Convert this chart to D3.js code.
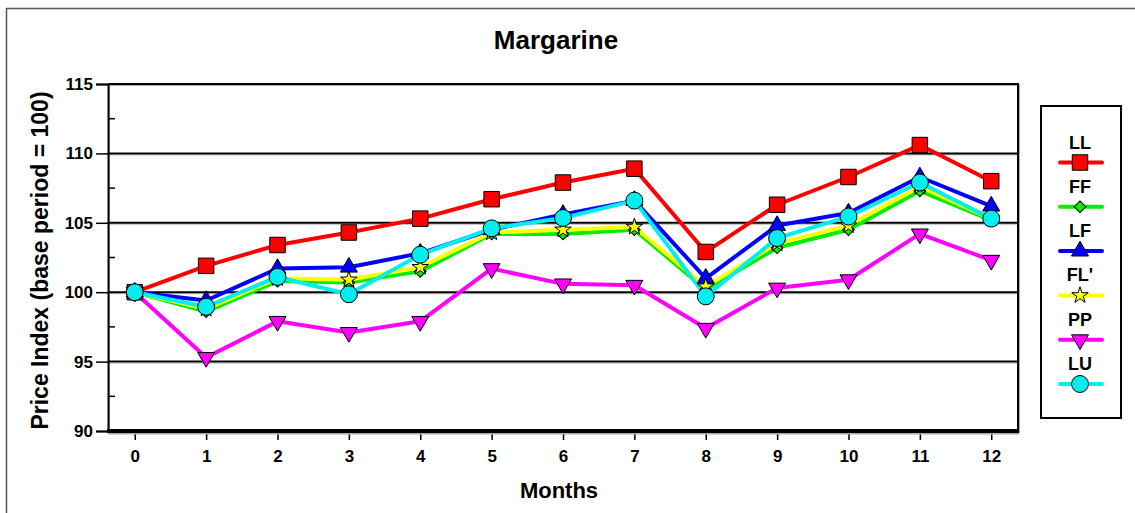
<!DOCTYPE html>
<html>
<head>
<meta charset="utf-8">
<script src="https://cdn.jsdelivr.net/npm/d3@7"></script>
<style>
  html, body { margin: 0; padding: 0; background: #fff; }
  svg { display: block; }
  text { font-family: "Liberation Sans", Arial, Helvetica, sans-serif; font-weight: bold; fill: #000; }
</style>
</head>
<body>
<svg id="chart" width="1135" height="513"></svg>
<script>
// ---- Data ----
const months = [0, 1, 2, 3, 4, 5, 6, 7, 8, 9, 10, 11, 12];
const seriesNames = ["LL", "FF", "LF", "FL'", "PP", "LU"];
const LL  = [100, 101.9, 103.4, 104.3, 105.3, 106.7, 107.9, 108.9, 102.9, 106.3, 108.3, 110.6, 108.0];
const FF  = [100, 98.6, 100.8, 100.7, 101.5, 104.2, 104.2, 104.5, 100.2, 103.2, 104.5, 107.3, 105.2];
const LF  = [100, 99.4, 101.7, 101.8, 102.8, 104.5, 105.6, 106.6, 101.0, 104.8, 105.7, 108.3, 106.2];
const FLp = [100, 98.8, 101.0, 100.9, 101.8, 104.3, 104.5, 104.7, 100.4, 103.5, 104.8, 107.6, 105.3];
const PP  = [100, 95.3, 97.9, 97.1, 97.9, 101.7, 100.6, 100.5, 97.4, 100.3, 100.9, 104.2, 102.3];
const LU  = [100, 98.95, 101.1, 99.85, 102.7, 104.6, 105.35, 106.6, 99.7, 103.9, 105.45, 107.9, 105.3];
const yTicks = [90, 95, 100, 105, 110, 115];
const yMinorTicks = [92.5, 97.5, 102.5, 107.5, 112.5];
const titleText = "Margarine";
const xTitle = "Months";
const yTitle = "Price Index (base period = 100)";

const seriesValues = [LL, FF, LF, FLp, PP, LU];
const colors = ["#ff0000", "#00ee00", "#0000ff", "#ffff00", "#ff00ff", "#00eeee"];
const symbols = [
  {type: d3.symbolSquare, size: 240, rot: 0},
  {type: d3.symbolSquare, size: 68, rot: 45},
  {type: d3.symbolTriangle, size: 125, rot: 0},
  {type: d3.symbolStar, size: 85, rot: 0},
  {type: d3.symbolTriangle, size: 125, rot: 180},
  {type: d3.symbolCircle, size: 225, rot: 0}
];

// ---- Layout ----
const svg = d3.select("#chart");
const plot = {left: 108, right: 1018, top: 84, bottom: 431};

const x = d3.scaleLinear().domain([-0.375, 12.375]).range([plot.left, plot.right]);
const y = d3.scaleLinear().domain([90, 115]).range([plot.bottom, plot.top]);

// Outer frame
svg.append("rect")
  .attr("x", 6.5).attr("y", 8.5).attr("width", 1140).attr("height", 520)
  .attr("fill", "none").attr("stroke", "#555").attr("stroke-width", 1.5);

// Title
svg.append("text").attr("x", 556).attr("y", 49)
  .attr("text-anchor", "middle").style("font-size", "26px").text(titleText);

// Plot box shadow
const g = svg.append("g");
g.append("rect")
  .attr("x", plot.left + 1).attr("y", plot.top + 1)
  .attr("width", plot.right - plot.left).attr("height", plot.bottom - plot.top)
  .attr("fill", "none").attr("stroke", "#aaa").attr("stroke-width", 2);

// Gridlines
g.append("g").selectAll("line").data(yTicks.slice(1, -1)).join("line")
  .attr("x1", plot.left).attr("x2", plot.right)
  .attr("y1", d => y(d)).attr("y2", d => y(d))
  .attr("stroke", "#bbb").attr("stroke-width", 1)
  .attr("transform", "translate(0,1.5)");
g.append("g").selectAll("line").data(yTicks.slice(1, -1)).join("line")
  .attr("x1", plot.left).attr("x2", plot.right)
  .attr("y1", d => y(d)).attr("y2", d => y(d))
  .attr("stroke", "#000").attr("stroke-width", 2);

// Plot box top/right
g.append("path")
  .attr("d", `M${plot.left},${plot.top}H${plot.right}V${plot.bottom}`)
  .attr("fill", "none").attr("stroke", "#000").attr("stroke-width", 2);

// Y axis
const yAxis = d3.axisLeft(y).tickValues(yTicks).tickSize(12).tickPadding(3).tickFormat(d3.format("d"));
const yg = svg.append("g").attr("transform", `translate(${plot.left},0)`).call(yAxis);
yg.select(".domain").attr("stroke", "#000").attr("stroke-width", 2);
yg.selectAll(".tick line").attr("stroke", "#000").attr("stroke-width", 1.5);
yg.selectAll(".tick text").style("font-size", "17px").style("font-family", "'Liberation Sans', Arial, sans-serif").style("font-weight", "bold");
// minor ticks inside
yg.append("g").selectAll("line").data(yMinorTicks).join("line")
  .attr("x1", 0).attr("x2", 7)
  .attr("y1", d => y(d)).attr("y2", d => y(d))
  .attr("stroke", "#000").attr("stroke-width", 1.5);

// X axis
const xAxis = d3.axisBottom(x).tickValues(months).tickSize(9).tickPadding(10).tickFormat(d3.format("d"));
const xg = svg.append("g").attr("transform", `translate(0,${plot.bottom})`).call(xAxis);
xg.select(".domain").remove();
xg.selectAll(".tick line").attr("stroke", "#000").attr("stroke-width", 1.5);
xg.selectAll(".tick text").style("font-size", "17px").style("font-family", "'Liberation Sans', Arial, sans-serif").style("font-weight", "bold");
svg.append("line").attr("x1", plot.left).attr("x2", plot.right + 1)
  .attr("y1", plot.bottom + 2.5).attr("y2", plot.bottom + 2.5)
  .attr("stroke", "#aaa").attr("stroke-width", 2);
svg.append("line").attr("x1", plot.left - 1).attr("x2", plot.right + 1)
  .attr("y1", plot.bottom).attr("y2", plot.bottom)
  .attr("stroke", "#000").attr("stroke-width", 4);

// Axis titles
svg.append("text").attr("x", 559).attr("y", 498)
  .attr("text-anchor", "middle").style("font-size", "22px").text(xTitle);
svg.append("text")
  .attr("transform", `translate(48,${(plot.top + plot.bottom) / 2 + 3}) rotate(-90)`)
  .attr("text-anchor", "middle").style("font-size", "23px").text(yTitle);

// Series
const line = d3.line().x((d, i) => x(months[i])).y(d => y(d));
const series = svg.append("g");
seriesValues.forEach((vals, si) => {
  series.append("path").datum(vals)
    .attr("d", line)
    .attr("fill", "none").attr("stroke", colors[si]).attr("stroke-width", 4)
    .attr("stroke-linejoin", "round");
});
seriesValues.forEach((vals, si) => {
  const sym = d3.symbol().type(symbols[si].type).size(symbols[si].size);
  series.append("g").selectAll("path").data(vals).join("path")
    .attr("d", sym)
    .attr("transform", (d, i) => `translate(${x(months[i])},${y(d)}) rotate(${symbols[si].rot})`)
    .attr("fill", colors[si]).attr("stroke", "#000").attr("stroke-width", 1);
});

// Legend
const leg = svg.append("g");
leg.append("rect").attr("x", 1041).attr("y", 106).attr("width", 80).attr("height", 312)
  .attr("fill", "#fff").attr("stroke", "#000").attr("stroke-width", 2);
seriesNames.forEach((name, si) => {
  const ly = 142 + si * 44.3;
  leg.append("text").attr("x", 1080).attr("y", ly + 6.5)
    .attr("text-anchor", "middle").style("font-size", "18px").text(name);
  leg.append("line").attr("x1", 1060).attr("x2", 1102)
    .attr("y1", ly + 20.5).attr("y2", ly + 20.5)
    .attr("stroke", colors[si]).attr("stroke-width", 4).attr("stroke-linecap", "round");
  leg.append("path")
    .attr("d", d3.symbol().type(symbols[si].type).size(symbols[si].size)())
    .attr("transform", `translate(1080,${ly + 20.5}) rotate(${symbols[si].rot})`)
    .attr("fill", colors[si]).attr("stroke", "#000").attr("stroke-width", 1);
});
</script>
</body>
</html>
